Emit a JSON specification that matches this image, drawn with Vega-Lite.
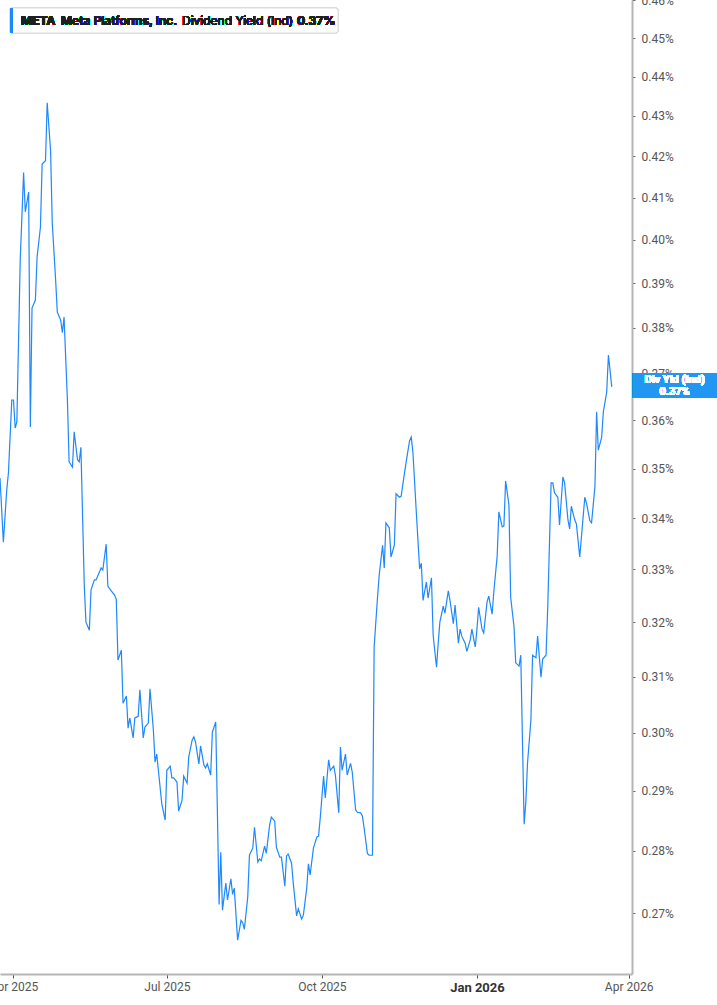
{
  "$schema": "https://vega.github.io/schema/vega-lite/v6.json",
  "width": 632,
  "height": 974,
  "autosize": "none",
  "padding": {"left": 0, "top": 0, "right": 85, "bottom": 31},
  "background": "white",
  "config": {"view": {"stroke": null}, "font": "Inter"},
  "resolve": {"axis": {"x": "independent", "y": "independent"}},
  "data": {
    "values": [
      {"date":"2025-03-24","yield":0.3481},{"date":"2025-03-26","yield":0.3353},{"date":"2025-03-28","yield":0.3457},{"date":"2025-03-29","yield":0.3491},{"date":"2025-03-31","yield":0.3643},{"date":"2025-04-01","yield":0.3643},{"date":"2025-04-02","yield":0.3584},{"date":"2025-04-03","yield":0.3597},{"date":"2025-04-05","yield":0.3953},{"date":"2025-04-07","yield":0.4160},{"date":"2025-04-08","yield":0.4066},{"date":"2025-04-10","yield":0.4113},{"date":"2025-04-11","yield":0.3586},{"date":"2025-04-12","yield":0.3844},{"date":"2025-04-14","yield":0.3862},{"date":"2025-04-15","yield":0.3960},{"date":"2025-04-17","yield":0.4030},{"date":"2025-04-18","yield":0.4181},{"date":"2025-04-20","yield":0.4189},{"date":"2025-04-21","yield":0.4333},{"date":"2025-04-23","yield":0.4215},{"date":"2025-04-24","yield":0.4040},{"date":"2025-04-26","yield":0.3908},{"date":"2025-04-27","yield":0.3835},{"date":"2025-04-29","yield":0.3817},{"date":"2025-04-30","yield":0.3789},
      {"date":"2025-05-01","yield":0.3824},{"date":"2025-05-03","yield":0.3643},{"date":"2025-05-04","yield":0.3514},{"date":"2025-05-06","yield":0.3503},{"date":"2025-05-07","yield":0.3576},{"date":"2025-05-09","yield":0.3518},{"date":"2025-05-10","yield":0.3514},{"date":"2025-05-11","yield":0.3544},{"date":"2025-05-13","yield":0.3270},{"date":"2025-05-14","yield":0.3200},{"date":"2025-05-16","yield":0.3185},{"date":"2025-05-17","yield":0.3261},{"date":"2025-05-19","yield":0.3280},{"date":"2025-05-20","yield":0.3280},{"date":"2025-05-22","yield":0.3295},{"date":"2025-05-23","yield":0.3303},{"date":"2025-05-24","yield":0.3299},{"date":"2025-05-26","yield":0.3349},{"date":"2025-05-27","yield":0.3268},{"date":"2025-05-29","yield":0.3259},{"date":"2025-05-31","yield":0.3251},
      {"date":"2025-06-01","yield":0.3243},{"date":"2025-06-02","yield":0.3130},{"date":"2025-06-04","yield":0.3148},{"date":"2025-06-05","yield":0.3052},{"date":"2025-06-07","yield":0.3065},{"date":"2025-06-08","yield":0.3008},{"date":"2025-06-09","yield":0.3026},{"date":"2025-06-11","yield":0.2991},{"date":"2025-06-12","yield":0.3026},{"date":"2025-06-14","yield":0.3029},{"date":"2025-06-15","yield":0.3076},{"date":"2025-06-17","yield":0.2991},{"date":"2025-06-18","yield":0.3010},{"date":"2025-06-20","yield":0.3017},{"date":"2025-06-21","yield":0.3078},{"date":"2025-06-23","yield":0.3005},{"date":"2025-06-24","yield":0.2949},{"date":"2025-06-25","yield":0.2963},{"date":"2025-06-27","yield":0.2906},{"date":"2025-06-28","yield":0.2878},{"date":"2025-06-30","yield":0.2851},
      {"date":"2025-07-01","yield":0.2935},{"date":"2025-07-03","yield":0.2942},{"date":"2025-07-04","yield":0.2922},{"date":"2025-07-05","yield":0.2922},{"date":"2025-07-07","yield":0.2915},{"date":"2025-07-08","yield":0.2866},{"date":"2025-07-10","yield":0.2884},{"date":"2025-07-11","yield":0.2925},{"date":"2025-07-13","yield":0.2913},{"date":"2025-07-14","yield":0.2958},{"date":"2025-07-16","yield":0.2987},{"date":"2025-07-17","yield":0.2993},{"date":"2025-07-18","yield":0.2984},{"date":"2025-07-20","yield":0.2946},{"date":"2025-07-21","yield":0.2977},{"date":"2025-07-23","yield":0.2944},{"date":"2025-07-24","yield":0.2939},{"date":"2025-07-25","yield":0.2946},{"date":"2025-07-27","yield":0.2927},{"date":"2025-07-28","yield":0.3001},{"date":"2025-07-30","yield":0.3019},
      {"date":"2025-08-01","yield":0.2714},{"date":"2025-08-02","yield":0.2798},{"date":"2025-08-03","yield":0.2705},{"date":"2025-08-05","yield":0.2748},{"date":"2025-08-06","yield":0.2721},{"date":"2025-08-08","yield":0.2755},{"date":"2025-08-09","yield":0.2730},{"date":"2025-08-10","yield":0.2740},{"date":"2025-08-12","yield":0.2658},{"date":"2025-08-14","yield":0.2689},{"date":"2025-08-15","yield":0.2685},{"date":"2025-08-16","yield":0.2675},{"date":"2025-08-18","yield":0.2726},{"date":"2025-08-19","yield":0.2793},{"date":"2025-08-21","yield":0.2805},{"date":"2025-08-22","yield":0.2839},{"date":"2025-08-24","yield":0.2782},{"date":"2025-08-25","yield":0.2787},{"date":"2025-08-26","yield":0.2784},{"date":"2025-08-28","yield":0.2808},{"date":"2025-08-29","yield":0.2796},{"date":"2025-08-31","yield":0.2843},
      {"date":"2025-09-01","yield":0.2856},{"date":"2025-09-03","yield":0.2849},{"date":"2025-09-04","yield":0.2806},{"date":"2025-09-06","yield":0.2790},{"date":"2025-09-07","yield":0.2790},{"date":"2025-09-09","yield":0.2743},{"date":"2025-09-10","yield":0.2792},{"date":"2025-09-11","yield":0.2795},{"date":"2025-09-13","yield":0.2780},{"date":"2025-09-14","yield":0.2748},{"date":"2025-09-16","yield":0.2696},{"date":"2025-09-17","yield":0.2707},{"date":"2025-09-19","yield":0.2691},{"date":"2025-09-20","yield":0.2697},{"date":"2025-09-22","yield":0.2740},{"date":"2025-09-23","yield":0.2779},{"date":"2025-09-24","yield":0.2761},{"date":"2025-09-26","yield":0.2805},{"date":"2025-09-28","yield":0.2823},{"date":"2025-09-29","yield":0.2824},{"date":"2025-09-30","yield":0.2854},
      {"date":"2025-10-02","yield":0.2925},{"date":"2025-10-03","yield":0.2888},{"date":"2025-10-05","yield":0.2953},{"date":"2025-10-06","yield":0.2935},{"date":"2025-10-08","yield":0.2942},{"date":"2025-10-09","yield":0.2927},{"date":"2025-10-11","yield":0.2863},{"date":"2025-10-12","yield":0.2975},{"date":"2025-10-13","yield":0.2935},{"date":"2025-10-15","yield":0.2963},{"date":"2025-10-16","yield":0.2927},{"date":"2025-10-18","yield":0.2947},{"date":"2025-10-19","yield":0.2932},{"date":"2025-10-21","yield":0.2868},{"date":"2025-10-22","yield":0.2864},{"date":"2025-10-24","yield":0.2863},{"date":"2025-10-25","yield":0.2858},{"date":"2025-10-26","yield":0.2839},{"date":"2025-10-28","yield":0.2796},{"date":"2025-10-29","yield":0.2793},{"date":"2025-10-31","yield":0.2793},
      {"date":"2025-11-01","yield":0.3154},{"date":"2025-11-03","yield":0.3247},{"date":"2025-11-04","yield":0.3289},{"date":"2025-11-06","yield":0.3347},{"date":"2025-11-07","yield":0.3303},{"date":"2025-11-08","yield":0.3391},{"date":"2025-11-10","yield":0.3381},{"date":"2025-11-11","yield":0.3324},{"date":"2025-11-13","yield":0.3347},{"date":"2025-11-14","yield":0.3449},{"date":"2025-11-16","yield":0.3442},{"date":"2025-11-17","yield":0.3444},{"date":"2025-11-19","yield":0.3491},{"date":"2025-11-20","yield":0.3514},{"date":"2025-11-22","yield":0.3557},{"date":"2025-11-23","yield":0.3565},{"date":"2025-11-24","yield":0.3534},{"date":"2025-11-26","yield":0.3413},{"date":"2025-11-28","yield":0.3301},{"date":"2025-11-29","yield":0.3312},{"date":"2025-11-30","yield":0.3241},
      {"date":"2025-12-02","yield":0.3276},{"date":"2025-12-03","yield":0.3245},{"date":"2025-12-05","yield":0.3284},{"date":"2025-12-06","yield":0.3176},{"date":"2025-12-08","yield":0.3117},{"date":"2025-12-09","yield":0.3161},{"date":"2025-12-10","yield":0.3200},{"date":"2025-12-12","yield":0.3230},{"date":"2025-12-13","yield":0.3217},{"date":"2025-12-15","yield":0.3259},{"date":"2025-12-16","yield":0.3241},{"date":"2025-12-18","yield":0.3197},{"date":"2025-12-19","yield":0.3232},{"date":"2025-12-21","yield":0.3161},{"date":"2025-12-22","yield":0.3187},{"date":"2025-12-23","yield":0.3174},{"date":"2025-12-25","yield":0.3161},{"date":"2025-12-26","yield":0.3146},{"date":"2025-12-28","yield":0.3167},{"date":"2025-12-29","yield":0.3187},{"date":"2025-12-31","yield":0.3154},
      {"date":"2026-01-01","yield":0.3187},{"date":"2026-01-02","yield":0.3228},{"date":"2026-01-04","yield":0.3187},{"date":"2026-01-05","yield":0.3180},{"date":"2026-01-07","yield":0.3238},{"date":"2026-01-08","yield":0.3249},{"date":"2026-01-10","yield":0.3215},{"date":"2026-01-11","yield":0.3257},{"date":"2026-01-13","yield":0.3326},{"date":"2026-01-14","yield":0.3413},{"date":"2026-01-16","yield":0.3383},{"date":"2026-01-17","yield":0.3385},{"date":"2026-01-18","yield":0.3475},{"date":"2026-01-20","yield":0.3426},{"date":"2026-01-21","yield":0.3247},{"date":"2026-01-23","yield":0.3191},{"date":"2026-01-24","yield":0.3125},{"date":"2026-01-26","yield":0.3119},{"date":"2026-01-27","yield":0.3139},{"date":"2026-01-29","yield":0.2844},{"date":"2026-01-30","yield":0.2881},{"date":"2026-01-31","yield":0.2947},
      {"date":"2026-02-02","yield":0.3022},{"date":"2026-02-03","yield":0.3139},{"date":"2026-02-05","yield":0.3134},{"date":"2026-02-06","yield":0.3174},{"date":"2026-02-08","yield":0.3099},{"date":"2026-02-09","yield":0.3132},{"date":"2026-02-11","yield":0.3139},{"date":"2026-02-12","yield":0.3228},{"date":"2026-02-14","yield":0.3471},{"date":"2026-02-15","yield":0.3471},{"date":"2026-02-16","yield":0.3451},{"date":"2026-02-18","yield":0.3442},{"date":"2026-02-19","yield":0.3387},{"date":"2026-02-21","yield":0.3483},{"date":"2026-02-22","yield":0.3471},{"date":"2026-02-24","yield":0.3397},{"date":"2026-02-25","yield":0.3379},{"date":"2026-02-26","yield":0.3424},{"date":"2026-02-28","yield":0.3397},
      {"date":"2026-03-01","yield":0.3389},{"date":"2026-03-03","yield":0.3324},{"date":"2026-03-04","yield":0.3363},{"date":"2026-03-06","yield":0.3442},{"date":"2026-03-07","yield":0.3430},{"date":"2026-03-09","yield":0.3395},{"date":"2026-03-10","yield":0.3391},{"date":"2026-03-12","yield":0.3463},{"date":"2026-03-13","yield":0.3618},{"date":"2026-03-14","yield":0.3538},{"date":"2026-03-16","yield":0.3565},{"date":"2026-03-17","yield":0.3618},{"date":"2026-03-19","yield":0.3660},{"date":"2026-03-20","yield":0.3740},{"date":"2026-03-22","yield":0.3671}
    ]
  },
  "layer": [
    {
      "mark": {"type": "line", "color": "#1e88fc", "strokeWidth": 1.2, "interpolate": "linear"},
      "encoding": {
        "x": {
          "field": "date", "type": "temporal",
          "scale": {"type": "utc", "domain": [{"year": 2025, "month": 3, "date": 24, "utc": true}, {"year": 2026, "month": 4, "date": 3, "utc": true}], "nice": false},
          "axis": {
            "title": null, "grid": false,
            "values": [
              {"year": 2025, "month": 4, "date": 1, "utc": true},
              {"year": 2025, "month": 7, "date": 1, "utc": true},
              {"year": 2025, "month": 10, "date": 1, "utc": true},
              {"year": 2026, "month": 1, "date": 1, "utc": true},
              {"year": 2026, "month": 4, "date": 1, "utc": true}
            ],
            "labelExpr": "utcFormat(datum.value, '%b %Y')",
            "labelFont": "Roboto",
            "labelFontSize": {"condition": {"test": "utcmonth(datum.value) == 0", "value": 13}, "value": 12},
            "labelFontWeight": {"condition": {"test": "utcmonth(datum.value) == 0", "value": "bold"}, "value": "normal"},
            "labelColor": {"condition": {"test": "utcmonth(datum.value) == 0", "value": "#333333"}, "value": "#555555"},
            "labelFlush": false, "labelOverlap": false, "labelPadding": 3,
            "domainColor": "#b5b5b5", "domainWidth": 2,
            "tickColor": "#555555", "tickSize": 4, "tickWidth": 1
          }
        },
        "y": {
          "field": "yield", "type": "quantitative",
          "scale": {"type": "log", "domain": [0.2606, 0.4601], "nice": false, "zero": false},
          "axis": {
            "orient": "right", "title": null, "grid": false,
            "values": [0.27, 0.28, 0.29, 0.30, 0.31, 0.32, 0.33, 0.34, 0.35, 0.36, 0.37, 0.38, 0.39, 0.40, 0.41, 0.42, 0.43, 0.44, 0.45, 0.46],
            "labelExpr": "format(datum.value, '.2f') + '%'",
            "labelFont": "Roboto", "labelFontSize": 12, "labelColor": "#555555",
            "labelFlush": false, "labelOverlap": false, "labelPadding": 6,
            "domainColor": "#b5b5b5", "domainWidth": 2,
            "tickColor": "#666666", "tickSize": 3, "tickWidth": 1
          }
        }
      }
    },
    {
      "mark": {"type": "rect", "fill": "white", "stroke": "#dddddd", "strokeWidth": 1, "cornerRadius": 3},
      "encoding": {
        "x": {"datum": {"year": 2025, "month": 3, "date": 30, "utc": true}, "type": "temporal", "axis": null},
        "x2": {"datum": {"year": 2025, "month": 10, "date": 10, "hours": 14, "utc": true}},
        "y": {"datum": 0.45796, "type": "quantitative", "axis": null},
        "y2": {"datum": 0.45132}
      }
    },
    {
      "mark": {"type": "rect", "fill": "#1e88fc", "cornerRadiusTopLeft": 2, "cornerRadiusBottomLeft": 2},
      "encoding": {
        "x": {"datum": {"year": 2025, "month": 3, "date": 30, "utc": true}, "type": "temporal", "axis": null},
        "x2": {"datum": {"year": 2025, "month": 3, "date": 31, "hours": 17, "utc": true}},
        "y": {"datum": 0.45796, "type": "quantitative", "axis": null},
        "y2": {"datum": 0.45132}
      }
    },
    {
      "mark": {"type": "text", "text": "META", "font": "Inter", "fontSize": 12, "fontWeight": 700, "color": "#1f1f1f", "align": "left", "baseline": "alphabetic"},
      "encoding": {
        "x": {"datum": {"year": 2025, "month": 4, "date": 5, "hours": 11, "utc": true}, "type": "temporal", "axis": null},
        "y": {"datum": 0.45343, "type": "quantitative", "axis": null}
      }
    },
    {
      "mark": {"type": "text", "text": "Meta Platforms, Inc.", "font": "Inter", "fontSize": 12, "fontWeight": 600, "color": "#1f1f1f", "align": "left", "baseline": "alphabetic"},
      "encoding": {
        "x": {"datum": {"year": 2025, "month": 4, "date": 29, "hours": 5, "utc": true}, "type": "temporal", "axis": null},
        "y": {"datum": 0.45343, "type": "quantitative", "axis": null}
      }
    },
    {
      "mark": {"type": "text", "text": "Dividend Yield (Ind)", "font": "Inter", "fontSize": 12, "fontWeight": 400, "color": "#1f1f1f", "align": "left", "baseline": "alphabetic"},
      "encoding": {
        "x": {"datum": {"year": 2025, "month": 7, "date": 10, "utc": true}, "type": "temporal", "axis": null},
        "y": {"datum": 0.45343, "type": "quantitative", "axis": null}
      }
    },
    {
      "mark": {"type": "text", "text": "0.37%", "font": "Inter", "fontSize": 12, "fontWeight": 700, "color": "#1f1f1f", "align": "left", "baseline": "alphabetic"},
      "encoding": {
        "x": {"datum": {"year": 2025, "month": 9, "date": 16, "hours": 6, "utc": true}, "type": "temporal", "axis": null},
        "y": {"datum": 0.45343, "type": "quantitative", "axis": null}
      }
    },
    {
      "mark": {"type": "rect", "fill": "#2196f3"},
      "encoding": {
        "x": {"datum": {"year": 2026, "month": 4, "date": 3, "hours": 14, "utc": true}, "type": "temporal", "axis": null},
        "x2": {"datum": {"year": 2026, "month": 5, "date": 24, "utc": true}},
        "y": {"datum": 0.37007, "type": "quantitative", "axis": null},
        "y2": {"datum": 0.36471}
      }
    },
    {
      "mark": {"type": "text", "text": "Div Yld (Ind)", "font": "Roboto", "fontSize": 11, "fontWeight": "bold", "color": "white", "align": "center", "baseline": "middle"},
      "encoding": {
        "x": {"datum": {"year": 2026, "month": 4, "date": 28, "hours": 7, "utc": true}, "type": "temporal", "axis": null},
        "y": {"datum": 0.36856, "type": "quantitative", "axis": null}
      }
    },
    {
      "mark": {"type": "text", "text": "0.37%", "font": "Roboto", "fontSize": 11, "fontWeight": "bold", "color": "white", "align": "center", "baseline": "middle"},
      "encoding": {
        "x": {"datum": {"year": 2026, "month": 4, "date": 28, "hours": 7, "utc": true}, "type": "temporal", "axis": null},
        "y": {"datum": 0.36605, "type": "quantitative", "axis": null}
      }
    }
  ]
}
